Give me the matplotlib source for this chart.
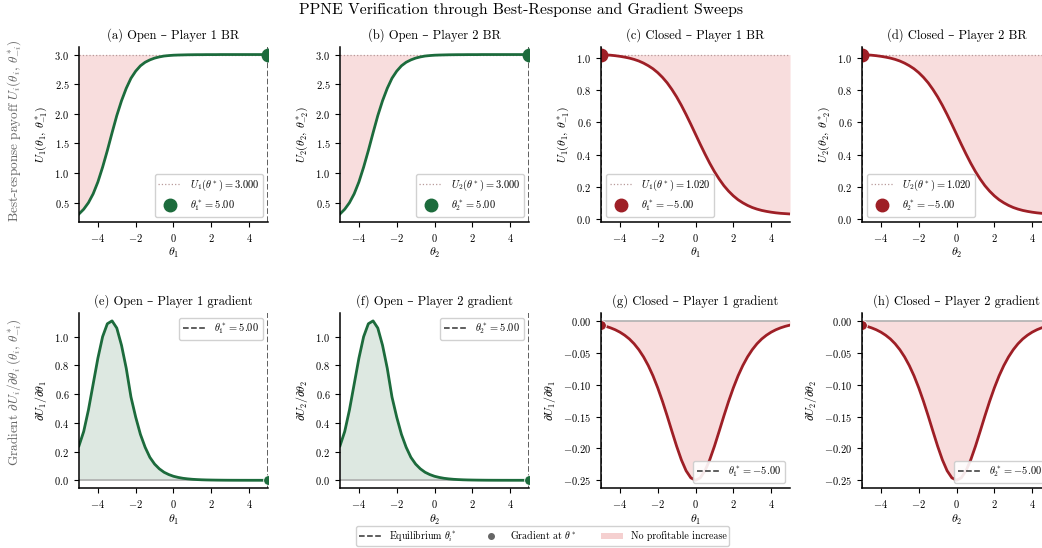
import numpy as np
import matplotlib
matplotlib.use("Agg")
import matplotlib.pyplot as plt
from matplotlib.lines import Line2D
from matplotlib.patches import Patch

plt.rcParams["font.family"] = ["cmr10", "DejaVu Serif"]
plt.rcParams["mathtext.fontset"] = "cm"
plt.rcParams["axes.formatter.use_mathtext"] = True
plt.rcParams["axes.unicode_minus"] = True

# sweep grid (step 0.25 from -5 to 5)
theta = np.arange(-5, 5.01, 0.25)

# open-loop best-response payoff (same for both players)
u_open = [0.31, 0.39, 0.50, 0.65, 0.85, 1.10, 1.38, 1.68, 1.97, 2.22,
          2.43, 2.60, 2.72, 2.81, 2.87, 2.91, 2.94, 2.96, 2.975, 2.983,
          2.989, 2.992, 2.994, 2.996, 2.997, 2.998, 2.998, 2.999, 2.999, 2.999,
          3.0, 3.0, 3.0, 3.0, 3.0, 3.0, 3.0, 3.0, 3.0, 3.0, 3.0]
# closed-loop best-response payoff
u_closed = [1.020, 1.018, 1.016, 1.013, 1.009, 1.004, 0.998, 0.990, 0.980, 0.967,
            0.951, 0.932, 0.908, 0.879, 0.845, 0.804, 0.758, 0.706, 0.649, 0.589,
            0.527, 0.465, 0.405, 0.348, 0.296, 0.250, 0.209, 0.175, 0.146, 0.122,
            0.103, 0.087, 0.074, 0.064, 0.056, 0.050, 0.045, 0.041, 0.038, 0.036,
            0.034]
# open-loop gradient
g_open = [0.24, 0.34, 0.49, 0.67, 0.85, 1.00, 1.09, 1.11, 1.06, 0.94,
          0.78, 0.58, 0.44, 0.32, 0.23, 0.16, 0.113, 0.08, 0.056, 0.04,
          0.028, 0.020, 0.014, 0.010, 0.007, 0.005, 0.0035, 0.0025, 0.0018, 0.0013,
          0.0009, 0.0006, 0.0004, 0.0003, 0.0002, 0.0002, 0.0001, 0.0001, 0.0001, 0.0,
          0.0]
# closed-loop gradient
g_closed = [-0.0066, -0.0085, -0.0109, -0.0139, -0.0177, -0.0225, -0.0284, -0.0359,
            -0.0452, -0.0565, -0.0701, -0.0862, -0.1050, -0.1261, -0.1491, -0.1731,
            -0.1966, -0.2179, -0.2350, -0.2461, -0.2500, -0.2461, -0.2350, -0.2179,
            -0.1966, -0.1731, -0.1491, -0.1261, -0.1050, -0.0862, -0.0701, -0.0565,
            -0.0452, -0.0359, -0.0284, -0.0225, -0.0177, -0.0139, -0.0109, -0.0085,
            -0.0066]

eq_open = 5.0
eq_closed = -5.0
u_star_open = 3.000
u_star_closed = 1.020

GREEN = "#1c6b3c"
RED = "#9e1f26"
PINK = "#f2bcbc"

fig = plt.figure(figsize=(10.42, 5.48), dpi=100)

lefts = [0.0758, 0.3263, 0.5768, 0.8273]
w = 0.1814
h = 0.32
bottom_top = 0.595
bottom_low = 0.109

panels = [
    ("(a) Open – Player 1 BR", 1, "open"),
    ("(b) Open – Player 2 BR", 2, "open"),
    ("(c) Closed – Player 1 BR", 1, "closed"),
    ("(d) Closed – Player 2 BR", 2, "closed"),
]
grad_titles = [
    "(e) Open – Player 1 gradient",
    "(f) Open – Player 2 gradient",
    "(g) Closed – Player 1 gradient",
    "(h) Closed – Player 2 gradient",
]


def style(ax):
    ax.spines["top"].set_visible(False)
    ax.spines["right"].set_visible(False)
    ax.spines["left"].set_linewidth(1.1)
    ax.spines["bottom"].set_linewidth(1.1)
    ax.tick_params(labelsize=7.5, length=3.5, width=0.8)
    ax.set_xlim(-5, 5)
    ax.set_xticks([-4, -2, 0, 2, 4])


for k, (title, p, mode) in enumerate(panels):
    # ---- best-response row
    ax = fig.add_axes([lefts[k], bottom_top, w, h])
    style(ax)
    if mode == "open":
        u, col, eq, us, loc = u_open, GREEN, eq_open, u_star_open, "lower right"
    else:
        u, col, eq, us, loc = u_closed, RED, eq_closed, u_star_closed, "lower left"
    ax.fill_between(theta, u, us, color=PINK, alpha=0.5, lw=0)
    ax.axhline(us, color="#b89a9a", ls=":", lw=0.9,
               label=rf"$U_{p}(\theta^*) = {us:.3f}$")
    ax.plot(theta, u, color=col, lw=2)
    ax.axvline(eq, color="#333333", ls="--", lw=1.1)
    ax.plot([eq], [us], "o", color=col, ms=9,
            label=rf"$\theta^*_{p} = {eq:.2f}$")
    ax.set_title(title, fontsize=9)
    ax.set_xlabel(rf"$\theta_{p}$", fontsize=8.5, labelpad=2)
    ax.set_ylabel(rf"$U_{p}(\theta_{p},\,\theta^*_{{-{p}}})$", fontsize=8.5)
    ax.legend(loc=loc, fontsize=7.5, framealpha=0.9, handlelength=2.2,
              borderpad=0.35)

    # ---- gradient row
    ax = fig.add_axes([lefts[k], bottom_low, w, h])
    style(ax)
    if mode == "open":
        g = g_open
        ax.fill_between(theta, g, 0, color=GREEN, alpha=0.15, lw=0)
        gloc = "upper right"
    else:
        g = g_closed
        ax.fill_between(theta, g, 0, color=PINK, alpha=0.5, lw=0)
        gloc = "lower right"
    ax.axhline(0, color="#aaaaaa", lw=1.1)
    ax.plot(theta, g, color=col, lw=2)
    ax.axvline(eq, color="#333333", ls="--", lw=1.1,
               label=rf"$\theta^*_{p} = {eq:.2f}$")
    ax.plot([eq], [g[-1] if mode == "open" else g[0]], "o", color=col, ms=7,
            mec="white", mew=0.6)
    ax.set_title(grad_titles[k], fontsize=9)
    ax.set_xlabel(rf"$\theta_{p}$", fontsize=8.5, labelpad=2)
    ax.set_ylabel(rf"$\partial U_{p}/\partial\theta_{p}$", fontsize=8.5)
    ax.legend(loc=gloc, fontsize=7.5, framealpha=0.9, handlelength=2.2,
              borderpad=0.35)

fig.text(0.5, 0.982, "PPNE Verification through Best-Response and Gradient Sweeps",
         ha="center", va="center", fontsize=11.3)
fig.text(0.014, 0.762, r"Best-response payoff $U_i(\theta_i,\,\theta^*_{-i})$",
         rotation=90, ha="center", va="center", fontsize=9.5, color="#666666")
fig.text(0.014, 0.285, r"Gradient $\partial U_i/\partial\theta_i\;(\theta_i,\,\theta^*_{-i})$",
         rotation=90, ha="center", va="center", fontsize=9.5, color="#666666")

handles = [
    Line2D([], [], color="#333333", ls="--", lw=1.1, label=r"Equilibrium $\theta^*_i$"),
    Line2D([], [], color="#666666", marker="o", ls="none", ms=4, label=r"Gradient at $\theta^*$"),
    Patch(facecolor=PINK, alpha=0.7, edgecolor="none", label="No profitable increase"),
]
fig.legend(handles=handles, loc="lower center", bbox_to_anchor=(0.521, -0.006),
           ncol=3, fontsize=7.2, framealpha=0.9, handlelength=2.2, handleheight=0.6,
           columnspacing=2.4, borderpad=0.25)

fig.savefig("out.png", dpi=100)
